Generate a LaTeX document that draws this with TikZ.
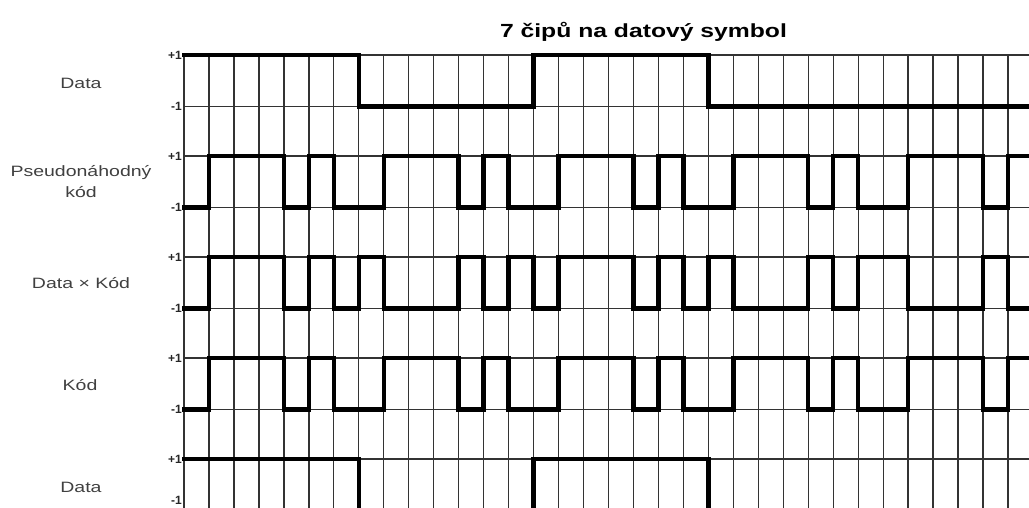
\documentclass[tikz,border=0pt]{standalone}
\usepackage{fontspec}
\setmainfont{Liberation Sans}
\newfontfamily\lblfont[FakeStretch=1.3]{Liberation Sans}
\newfontfamily\ttlfont[FakeStretch=1.3]{Liberation Sans Bold}
\newfontfamily\lvlfont{Liberation Sans Bold}
\tikzset{
  gridline/.style={draw=black!80, line width=1.3pt},
  wave/.style={draw=black, line width=4.4pt, line join=miter, line cap=rect},
  lbl/.style={font=\lblfont\fontsize{15}{21}\selectfont, text=black!75, inner sep=0pt, align=center},
  lvl/.style={font=\lvlfont\fontsize{12}{13}\selectfont, anchor=east, inner sep=0pt, text=black!85},
  ttl/.style={font=\ttlfont\fontsize{19}{22}\selectfont, anchor=base, inner sep=0pt}
}
\newcommand\wavepath[3]{%
  \draw[wave] (0,{#1+(1-(#2))*25.75})
    \foreach \v [count=\i] in {#3} { -- ({\i-1},{#1+(1-(\v))*25.75}) -- (\i,{#1+(1-(\v))*25.75}) };
}
\begin{document}
\begin{tikzpicture}[x=1pt,y=-1pt]
\useasboundingbox (0,0) rectangle (1029,508);
\clip (0,0) rectangle (1029,508);
% grid
\foreach \k in {0,...,33} \draw[gridline] ({184+24.97*\k},55) -- ({184+24.97*\k},512);
\foreach \r in {0,...,4} {
  \draw[gridline] (184,{55+101*\r}) -- (1029,{55+101*\r});
  \draw[gridline] (184,{106.5+101*\r}) -- (1029,{106.5+101*\r});
  \node[lvl] (p\r) at (182,{55+101*\r}) {+1};
}
\foreach \r in {0,...,3} \node[lvl] (m\r) at (182,{106.5+101*\r}) {-1};
\node[lvl] (m4) at (182,500) {-1};
% title
\node[ttl] (title) at (643.5,38) {7 čipů na datový symbol};
% labels
\node[lbl] (l1) at (81,83) {Data};
\node[lbl] (l2) at (81,182) {Pseudonáhodný\\kód};
\node[lbl] (l3) at (81,283) {Data × Kód};
\node[lbl] (l4) at (80,385) {Kód};
\node[lbl] (l5) at (81,487) {Data};
% waveforms
\begin{scope}[xshift=184pt, x=24.97pt]
\wavepath{55}{1}{1,1,1,1,1,1,1,-1,-1,-1,-1,-1,-1,-1,1,1,1,1,1,1,1,-1,-1,-1,-1,-1,-1,-1,-1,-1,-1,-1,-1,-1,-1}
\wavepath{156}{-1}{-1,1,1,1,-1,1,-1,-1,1,1,1,-1,1,-1,-1,1,1,1,-1,1,-1,-1,1,1,1,-1,1,-1,-1,1,1,1,-1,1,-1}
\wavepath{257}{-1}{-1,1,1,1,-1,1,-1,1,-1,-1,-1,1,-1,1,-1,1,1,1,-1,1,-1,1,-1,-1,-1,1,-1,1,1,-1,-1,-1,1,-1,1}
\wavepath{358}{-1}{-1,1,1,1,-1,1,-1,-1,1,1,1,-1,1,-1,-1,1,1,1,-1,1,-1,-1,1,1,1,-1,1,-1,-1,1,1,1,-1,1,-1}
\wavepath{459}{1}{1,1,1,1,1,1,1,-1,-1,-1,-1,-1,-1,-1,1,1,1,1,1,1,1,-1,-1,-1,-1,-1,-1,-1,-1,-1,-1,-1,-1,-1,-1}
\end{scope}
\end{tikzpicture}
\end{document}
